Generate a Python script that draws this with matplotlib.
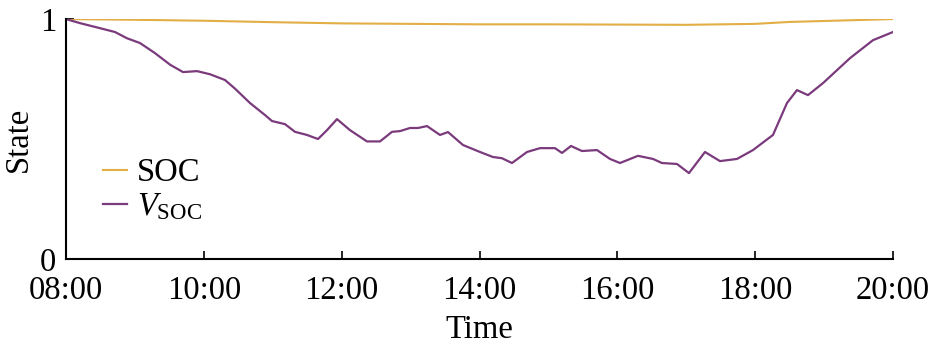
import numpy as np
import matplotlib
matplotlib.use("Agg")
import matplotlib.pyplot as plt

plt.rcParams['font.family'] = ['Liberation Serif', 'DejaVu Serif']
plt.rcParams['mathtext.fontset'] = 'custom'
plt.rcParams['mathtext.rm'] = 'Liberation Serif'
plt.rcParams['mathtext.it'] = 'Liberation Serif:italic'

# time in hours
soc_t = [8.0, 9.0, 10.0, 11.0, 12.0, 13.0, 14.0, 15.0, 16.0, 17.0, 17.5, 18.0, 18.5, 19.0, 20.0]
soc_v = [1.0, 0.997, 0.993, 0.987, 0.982, 0.980, 0.978, 0.978, 0.977, 0.976, 0.978, 0.980, 0.988, 0.992, 1.0]

vsoc_px = [66, 80, 100, 115, 127, 140, 155, 170, 183, 197, 210, 225, 235, 250, 265, 272, 285,
           295, 307, 318, 327, 337, 350, 367, 380, 392, 400, 410, 418, 427, 440, 448, 463, 480,
           493, 502, 512, 527, 540, 555, 562, 571, 582, 597, 610, 620, 638, 653, 662, 677, 689,
           705, 720, 737, 753, 773, 787, 797, 808, 823, 850, 873, 893]
vsoc_v = [1.0, 0.983, 0.962, 0.946, 0.92, 0.9, 0.858, 0.81, 0.779, 0.783, 0.77, 0.746, 0.71,
          0.65, 0.6, 0.575, 0.562, 0.53, 0.517, 0.5, 0.537, 0.583, 0.537, 0.49, 0.49, 0.53,
          0.533, 0.546, 0.546, 0.554, 0.517, 0.529, 0.475, 0.446, 0.425, 0.42, 0.4, 0.446,
          0.462, 0.462, 0.442, 0.471, 0.45, 0.454, 0.417, 0.4, 0.43, 0.417, 0.4, 0.396, 0.358,
          0.446, 0.408, 0.417, 0.454, 0.517, 0.65, 0.704, 0.683, 0.733, 0.837, 0.912, 0.946]
vsoc_t = [8 + (p - 66) / 68.92 for p in vsoc_px]

xticks = [8, 10, 12, 14, 16, 18, 20]
xlabels = ['08:00', '10:00', '12:00', '14:00', '16:00', '18:00', '20:00']

fig = plt.figure(figsize=(9.31, 3.53), dpi=100)
ax = fig.add_axes([0.0709, 0.2663, 0.8883, 0.6797])

ax.plot(soc_t, soc_v, color='#E2AE45', lw=1.5, label='SOC')
ax.plot(vsoc_t, vsoc_v, color='#7A3A7C', lw=1.6, label=r'$V_{\mathrm{SOC}}$')

ax.set_xlim(8, 20)
ax.set_ylim(0, 1)
ax.set_xticks(xticks)
ax.set_xticklabels(xlabels)
ax.set_yticks([0, 1])
ax.set_yticklabels(['0', '1'])
ax.tick_params(direction='in', labelsize=23.5, length=6, width=1.2)
ax.tick_params(axis='x', pad=12)
ax.tick_params(axis='y', pad=7)
ax.spines['top'].set_visible(False)
ax.spines['right'].set_visible(False)
for s in ['left', 'bottom']:
    ax.spines[s].set_linewidth(1.5)
ax.set_xlabel('Time', fontsize=23.5, labelpad=6)
ax.set_ylabel('State', fontsize=23.5, labelpad=4)

ax.legend(loc='upper left', bbox_to_anchor=(0.025, 0.49), frameon=False, fontsize=23.5,
          handlelength=0.75, handletextpad=0.3, labelspacing=0.1, borderpad=0)

fig.savefig('out.png', dpi=100)
